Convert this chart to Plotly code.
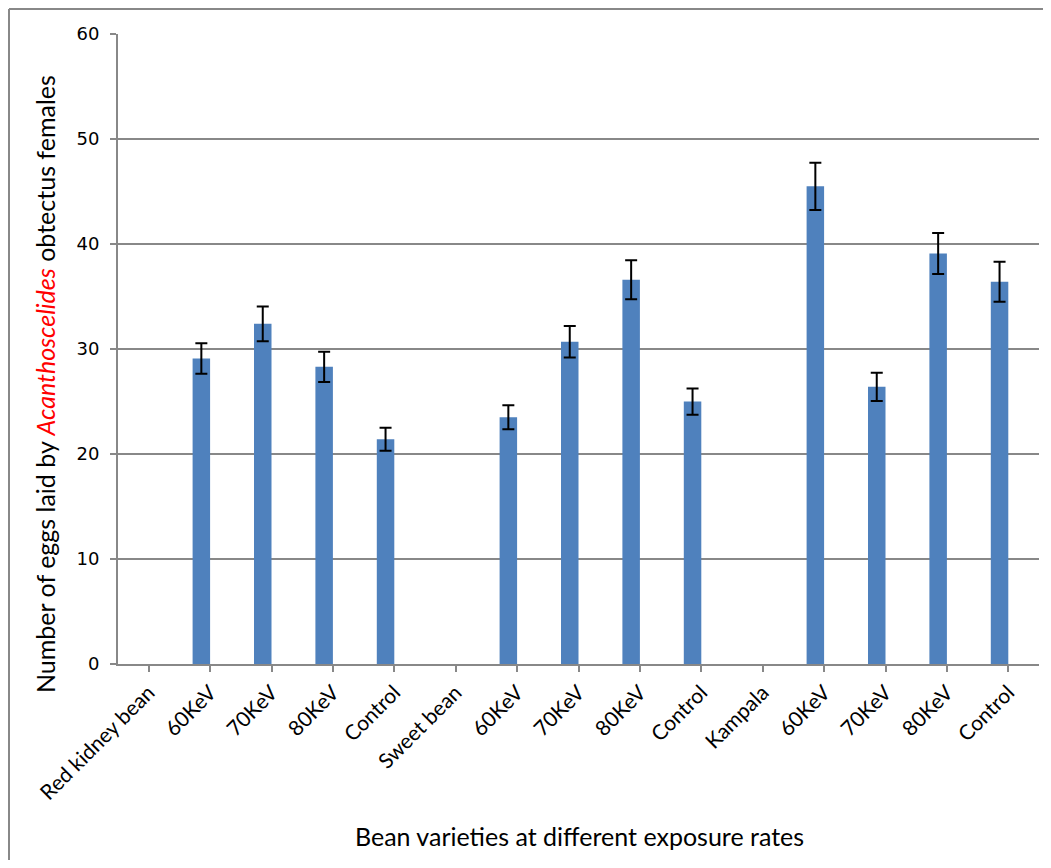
import plotly.graph_objects as go

categories = ["Red kidney bean", "60KeV", "70KeV", "80KeV", "Control",
              "Sweet bean", "60KeV", "70KeV", "80KeV", "Control",
              "Kampala", "60KeV", "70KeV", "80KeV", "Control"]
values = [None, 29.1, 32.4, 28.3, 21.4,
          None, 23.5, 30.7, 36.6, 25.0,
          None, 45.5, 26.4, 39.1, 36.4]
errors = [None, 1.45, 1.65, 1.45, 1.1,
          None, 1.15, 1.5, 1.85, 1.25,
          None, 2.25, 1.35, 1.95, 1.9]

# unique x keys so repeated labels stay separate categories
xkeys = list(range(len(categories)))

# page has an 8px body margin; figure placed at (8, 8)
W, H = 1035, 852
L, R, T = 110, 4, 26
ph = 630
B = H - T - ph
pw = W - L - R

fig = go.Figure()
fig.add_trace(go.Bar(
    x=xkeys, y=values,
    width=0.285, offset=-0.285,
    marker=dict(color="#4F81BD", line=dict(width=0)),
    error_y=dict(type="data", array=errors, visible=True,
                 color="black", thickness=2, width=6),
    showlegend=False,
))

gray = "#888888"
fig.update_layout(
    width=W, height=H,
    margin=dict(l=L, r=R, t=T, b=B),
    paper_bgcolor="white", plot_bgcolor="white",
    font=dict(family="Lato, Open Sans, sans-serif", color="black"),
    xaxis=dict(
        tickmode="array", tickvals=xkeys, ticktext=categories,
        range=[-0.5, len(categories) - 0.5],
        tickangle=-45,
        tickfont=dict(family="Lato", size=21, color="black"),
        showline=True, linecolor=gray, linewidth=2,
        ticks="outside", ticklen=6, tickcolor=gray, tickwidth=2,
        tickson="boundaries",
        showgrid=False, zeroline=False,
    ),
    yaxis=dict(
        range=[0, 60], dtick=10,
        tickfont=dict(family="DejaVu Sans", size=18, color="black"),
        ticklabelstandoff=7,
        showline=True, linecolor=gray, linewidth=2,
        ticks="outside", ticklen=6, tickcolor=gray, tickwidth=2,
        showgrid=True, gridcolor=gray, gridwidth=2,
        zeroline=False,
    ),
)

# axis titles
fig.add_annotation(
    text="Number of eggs laid by <i><span style='color:red'>Acanthoscelides</span></i> obtectus females",
    xref="paper", yref="paper", x=(37 - L) / pw, y=(656 - 376) / ph,
    xanchor="center", yanchor="middle", textangle=-90, showarrow=False,
    font=dict(family="Lato", size=25, color="black"),
)
fig.add_annotation(
    text="Bean varieties at different exposure rates",
    xref="paper", yref="paper", x=(579 - 8 - L) / pw, y=-(828 - 656) / ph,
    xanchor="center", yanchor="middle", showarrow=False,
    font=dict(family="Lato", size=25, color="black"),
)

# outer chart border (top and left)
x0 = -(L - 1) / pw
y_top = (T - 1 + ph) / ph
fig.add_shape(type="line", xref="paper", yref="paper",
              x0=x0, x1=(W - L) / pw + 0.05, y0=y_top, y1=y_top,
              line=dict(color=gray, width=2))
fig.add_shape(type="line", xref="paper", yref="paper",
              x0=x0, x1=x0, y0=y_top, y1=-(B + 5) / ph,
              line=dict(color=gray, width=2))

fig.write_html("out.html")
